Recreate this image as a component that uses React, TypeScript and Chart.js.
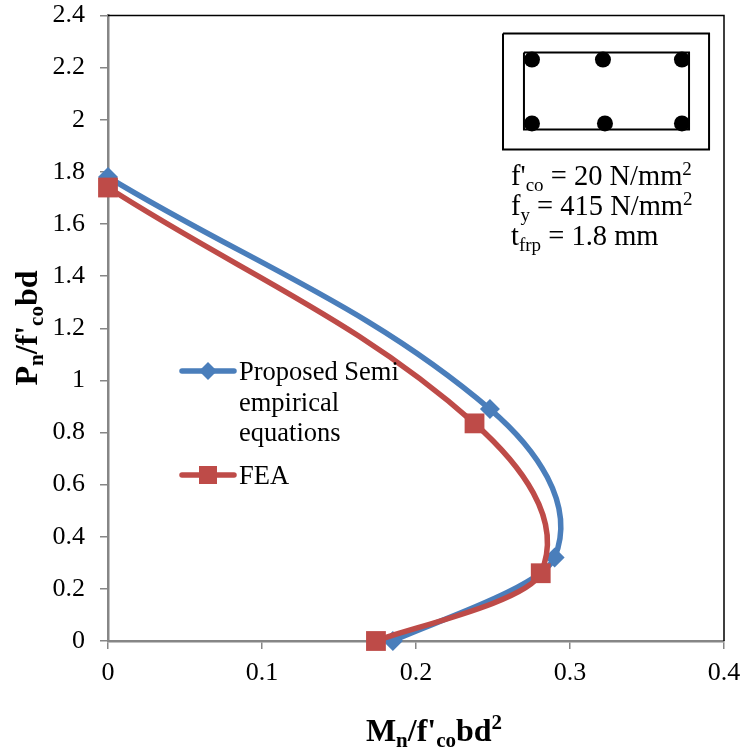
import React, { useEffect, useRef } from "react";
import { Chart, registerables } from "chart.js";

Chart.register(...registerables);

const proposedM = [0, 0.248, 0.29, 0.185];
const proposedP = [1.78, 0.89, 0.32, 0];
const feaM = [0, 0.238, 0.281, 0.174];
const feaP = [1.74, 0.835, 0.26, 0];

const xTicks = [0, 0.1, 0.2, 0.3, 0.4];
const yTicks = [0, 0.2, 0.4, 0.6, 0.8, 1, 1.2, 1.4, 1.6, 1.8, 2, 2.2, 2.4];

// inset cross-section, in axis units
const outerX = [0.2565, 0.3903, 0.3903, 0.2565, 0.2565];
const outerY = [2.331, 2.331, 1.886, 1.886, 2.331];
const innerX = [0.2701, 0.3773, 0.3773, 0.2701, 0.2701];
const innerY = [2.258, 2.258, 1.963, 1.963, 2.258];
const barX = [0.2753, 0.3214, 0.3727, 0.2753, 0.3227, 0.3727];
const barY = [2.231, 2.231, 2.231, 1.986, 1.986, 1.986];

const legendLabels = [["Proposed Semi", "empirical", "equations"], ["FEA"]];

const BLUE = "#4A7EBB";
const RED = "#BE4B48";
const AXIS = "#868686";
const SERIF = '"Liberation Serif"';
const SMOOTH = 0.36;
const SMOOTH_TAIL = 0.18;

type Run = { t: string; k?: "sub" | "sup" };

const pairs = (xs: number[], ys: number[]) => xs.map((x, i) => ({ x, y: ys[i] }));

function drawRuns(ctx: CanvasRenderingContext2D, runs: Run[], x: number, y: number, size: number, bold = false) {
  let cx = x;
  const w = bold ? "bold " : "";
  ctx.textAlign = "left";
  ctx.textBaseline = "alphabetic";
  ctx.fillStyle = "#000";
  for (const r of runs) {
    const s = r.k ? Math.round(size * 0.65) : size;
    const dy = r.k === "sub" ? size * 0.2 : r.k === "sup" ? -size * 0.36 : 0;
    ctx.font = `${w}${s}px ${SERIF}`;
    ctx.fillText(r.t, cx, y + dy);
    cx += ctx.measureText(r.t).width;
  }
}

function runsWidth(ctx: CanvasRenderingContext2D, runs: Run[], size: number, bold = false) {
  let total = 0;
  const w = bold ? "bold " : "";
  for (const r of runs) {
    ctx.font = `${w}${r.k ? Math.round(size * 0.65) : size}px ${SERIF}`;
    total += ctx.measureText(r.t).width;
  }
  return total;
}

// Spreadsheet-style smoothing: handle length follows each segment's own length;
// the free ends aim along their chord, and the last segment is kept tauter.
const smoothing = {
  id: "smoothing",
  beforeDatasetsDraw(chart: any) {
    [0, 1].forEach((idx) => {
      const line = chart.getDatasetMeta(idx).dataset;
      line.updateControlPoints(chart.chartArea);
      const p = line.points;
      p.forEach((pt: any, i: number) => {
        const prev = p[i - 1];
        const next = p[i + 1];
        if (!prev || !next) {
          const o = prev || next;
          const k = prev ? SMOOTH_TAIL : SMOOTH;
          pt.cp1x = pt.cp2x = pt.x + (o.x - pt.x) * k;
          pt.cp1y = pt.cp2y = pt.y + (o.y - pt.y) * k;
          return;
        }
        const tx = next.x - prev.x;
        const ty = next.y - prev.y;
        const n = Math.hypot(tx, ty);
        const dp = Math.hypot(pt.x - prev.x, pt.y - prev.y);
        const dn = Math.hypot(next.x - pt.x, next.y - pt.y);
        const kn = i === p.length - 2 ? SMOOTH_TAIL : SMOOTH;
        pt.cp1x = pt.x - (tx / n) * dp * SMOOTH;
        pt.cp1y = pt.y - (ty / n) * dp * SMOOTH;
        pt.cp2x = pt.x + (tx / n) * dn * kn;
        pt.cp2y = pt.y + (ty / n) * dn * kn;
      });
    });
  },
};

const overlay = {
  id: "overlay",
  afterDatasetsDraw(chart: any) {
    const ctx: CanvasRenderingContext2D = chart.ctx;
    const a = chart.chartArea;
    ctx.save();
    // top and right frame
    ctx.strokeStyle = "#000";
    ctx.lineWidth = 1.5;
    ctx.beginPath();
    ctx.moveTo(a.left, a.top);
    ctx.lineTo(a.right, a.top);
    ctx.lineTo(a.right, a.bottom);
    ctx.stroke();

    // axis titles
    const xt: Run[] = [{ t: "M" }, { t: "n", k: "sub" }, { t: "/f'" }, { t: "co", k: "sub" }, { t: "bd" }, { t: "2", k: "sup" }];
    drawRuns(ctx, xt, 434 - runsWidth(ctx, xt, 32, true) / 2, 741, 32, true);
    const yt: Run[] = [{ t: "P" }, { t: "n", k: "sub" }, { t: "/f'" }, { t: "co", k: "sub" }, { t: "bd" }];
    ctx.save();
    ctx.translate(37, 328);
    ctx.rotate(-Math.PI / 2);
    drawRuns(ctx, yt, -runsWidth(ctx, yt, 32, true) / 2, 0, 32, true);
    ctx.restore();

    // notes
    drawRuns(ctx, [{ t: "f'" }, { t: "co", k: "sub" }, { t: " = 20 N/mm" }, { t: "2", k: "sup" }], 511, 185, 28.5);
    drawRuns(ctx, [{ t: "f" }, { t: "y", k: "sub" }, { t: " = 415 N/mm" }, { t: "2", k: "sup" }], 511, 215, 28.5);
    drawRuns(ctx, [{ t: "t" }, { t: "frp", k: "sub" }, { t: " = 1.8 mm" }], 511, 245, 28.5);

    // legend
    ctx.lineCap = "round";
    ctx.lineWidth = 5.5;
    ctx.strokeStyle = BLUE;
    ctx.beginPath();
    ctx.moveTo(182, 371);
    ctx.lineTo(234, 371);
    ctx.stroke();
    ctx.fillStyle = BLUE;
    ctx.beginPath();
    ctx.moveTo(208, 362);
    ctx.lineTo(217, 371);
    ctx.lineTo(208, 380);
    ctx.lineTo(199, 371);
    ctx.closePath();
    ctx.fill();
    ctx.strokeStyle = RED;
    ctx.beginPath();
    ctx.moveTo(182, 475);
    ctx.lineTo(234, 475);
    ctx.stroke();
    ctx.fillStyle = RED;
    ctx.fillRect(199, 466, 18, 18);
    legendLabels[0].forEach((l, i) => drawRuns(ctx, [{ t: l }], 239, 380 + i * 30.5, 26.5));
    drawRuns(ctx, [{ t: legendLabels[1][0] }], 239, 484, 26.5);
    ctx.restore();
  },
};

export default function App() {
  const ref = useRef<HTMLCanvasElement>(null);
  useEffect(() => {
    const plain = (label: string, d: any[], w: number) => ({
      label,
      data: d,
      showLine: true,
      tension: 0,
      borderColor: "#000",
      borderWidth: w,
      pointRadius: 0,
      clip: false,
      order: 5,
    });
    const chart = new Chart(ref.current as HTMLCanvasElement, {
      type: "scatter",
      data: {
        datasets: [
          {
            label: "FEA",
            data: pairs(feaM, feaP),
            showLine: true,
            tension: 0.5,
            borderColor: RED,
            backgroundColor: RED,
            borderWidth: 5.5,
            pointStyle: "rect",
            pointRadius: 14,
            pointBorderWidth: 0,
            clip: false,
            order: 1,
          },
          {
            label: "Proposed Semi empirical equations",
            data: pairs(proposedM, proposedP),
            showLine: true,
            tension: 0.5,
            borderColor: BLUE,
            backgroundColor: BLUE,
            borderWidth: 5.5,
            pointStyle: "rectRot",
            pointRadius: 10,
            pointBorderWidth: 0,
            clip: false,
            order: 2,
          },
          plain("section", pairs(outerX, outerY), 2),
          plain("stirrup", pairs(innerX, innerY), 2),
          {
            label: "bars",
            data: pairs(barX, barY),
            showLine: false,
            backgroundColor: "#000",
            pointRadius: 8,
            pointBorderWidth: 0,
            order: 4,
          },
        ],
      },
      options: {
        animation: false,
        responsive: false,
        layout: { padding: { left: 0, right: 20, top: 15.5, bottom: 0 } },
        elements: { line: { capBezierPoints: false } },
        plugins: { legend: { display: false }, tooltip: { enabled: false } },
        scales: {
          x: {
            type: "linear",
            min: 0,
            max: 0.4,
            afterBuildTicks: (s: any) => {
              s.ticks = xTicks.map((value) => ({ value }));
            },
            afterFit: (s: any) => {
              s.height = 114;
              s.paddingLeft = 0;
              s.paddingRight = 0;
            },
            grid: { drawOnChartArea: false, color: AXIS, tickLength: 8, lineWidth: 1.5 },
            border: { color: AXIS, width: 2.5 },
            ticks: {
              color: "#000",
              maxRotation: 0,
              padding: 9,
              font: { family: SERIF, size: 26 },
              callback: (v: any) => String(v),
            },
          },
          y: {
            type: "linear",
            min: 0,
            max: 2.4,
            afterBuildTicks: (s: any) => {
              s.ticks = yTicks.map((value) => ({ value }));
            },
            afterFit: (s: any) => {
              s.width = 108;
              s.paddingTop = 0;
              s.paddingBottom = 0;
            },
            grid: { drawOnChartArea: false, color: AXIS, tickLength: 8, lineWidth: 1.5 },
            border: { color: AXIS, width: 2.5 },
            ticks: {
              color: "#000",
              padding: 15,
              font: { family: SERIF, size: 26 },
              callback: (v: any) => String(v),
            },
          },
        },
      },
      plugins: [smoothing, overlay],
    } as any);
    return () => chart.destroy();
  }, []);
  return (
    <div style={{ position: "absolute", left: 0, top: 0, width: 744, height: 755, background: "#fff" }}>
      <canvas ref={ref} width={744} height={755} style={{ display: "block" }} />
    </div>
  );
}
